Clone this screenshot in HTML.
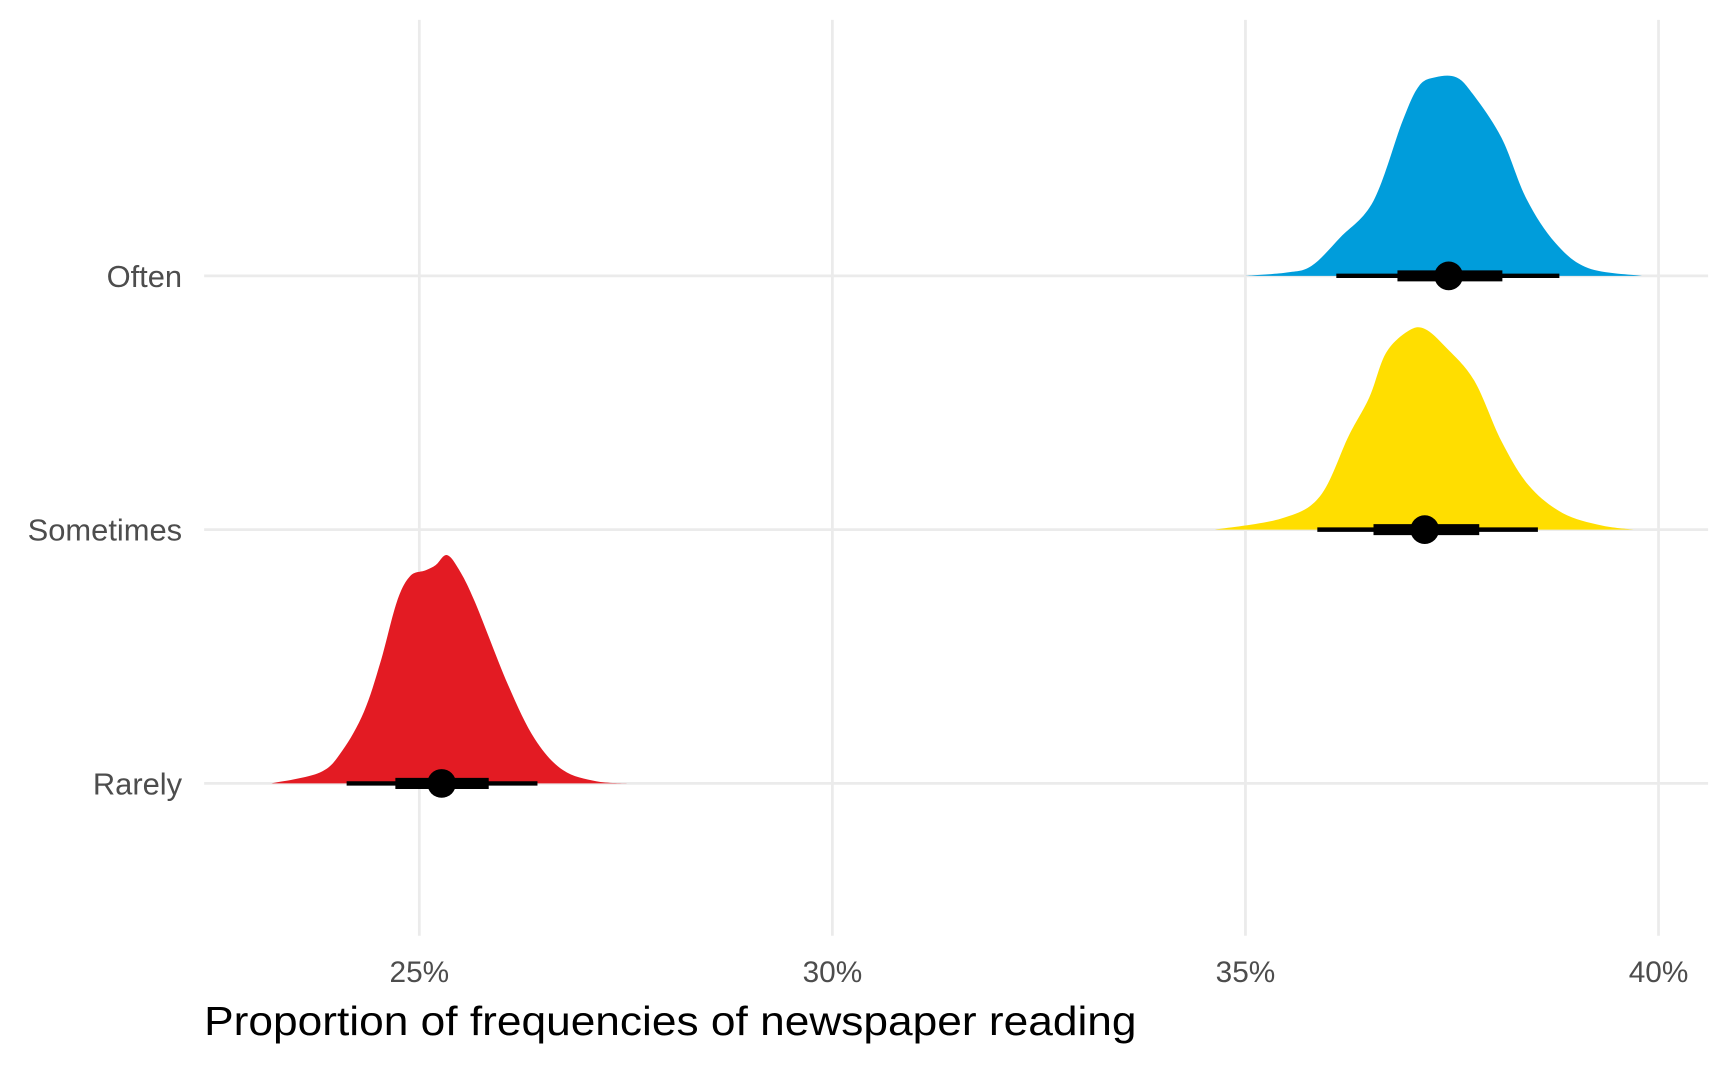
<!DOCTYPE html>
<html><head><meta charset="utf-8"><style>
html,body{margin:0;padding:0;background:#fff;}
svg{display:block;font-family:"Liberation Sans",sans-serif;}
</style></head><body>
<svg id="chart" width="1728" height="1067" viewBox="0 0 1566 967" xmlns="http://www.w3.org/2000/svg">
<g id="grid"></g>
<g id="marks"></g>
<g id="labels"></g>
<text x="185" y="938" font-size="37" textLength="845" lengthAdjust="spacingAndGlyphs" fill="#000">Proportion of frequencies of newspaper reading</text>
</svg>
<script>
const categories = ["Often", "Sometimes", "Rarely"];
const colors = ["#009ddb", "#ffde00", "#e31b23"];
const xTicks = [25, 30, 35, 40];
const xTickLabels = ["25%", "30%", "35%", "40%"];
const oftenX = [35.0, 35.5, 35.8, 36.15, 36.55, 36.9, 37.1, 37.3, 37.55, 37.75, 38.1, 38.4, 38.75, 39.15, 39.8];
const oftenD = [0, 3, 9, 35, 68, 140, 172, 180, 180, 165, 125, 70, 30, 7, 0];
const sometimesX = [34.63, 35.43, 35.9, 36.25, 36.5, 36.7, 36.97, 37.17, 37.43, 37.77, 38.1, 38.43, 38.84, 39.3, 39.7];
const sometimesD = [0, 10, 30, 85, 120, 160, 180, 182, 165, 135, 80, 40, 15, 4, 0];
const rarelyX = [23.21, 23.8, 24.07, 24.33, 24.53, 24.73, 24.89, 25.07, 25.2, 25.33, 25.47, 25.67, 26.07, 26.4, 26.74, 27.14, 27.55];
const rarelyD = [0, 10, 30, 65, 110, 165, 188, 193, 198, 207, 195, 165, 90, 40, 12, 2, 0];
const pointEst = [37.46, 37.17, 25.27];
const innerLo = [36.84, 36.55, 24.71];
const innerHi = [38.11, 37.83, 25.84];
const outerLo = [36.1, 35.87, 24.12];
const outerHi = [38.8, 38.54, 26.43];

const NS = "http://www.w3.org/2000/svg";
const xs = v => 380 + (v - 25) * 74.87;
const ys = i => 250 + i * 230;
const dScale = d => d;
function mk(tag, attrs, parent) {
  const e = document.createElementNS(NS, tag);
  for (const k in attrs) e.setAttribute(k, attrs[k]);
  parent.appendChild(e); return e;
}
const grid = document.getElementById('grid');
const marks = document.getElementById('marks');
const labels = document.getElementById('labels');
xTicks.forEach((t, i) => {
  const l = mk('line', {x1: xs(t), x2: xs(t), y1: 18, y2: 848, stroke: '#ebebeb', 'stroke-width': 2.5}, grid);
  
  
  const tx = mk('text', {x: xs(t), y: 890, 'text-anchor': 'middle', 'font-size': 27, fill: '#4d4d4d'}, labels);
  tx.textContent = xTickLabels[i];
  
  
});
categories.forEach((c, i) => {
  const l = mk('line', {x1: 185, x2: 1548, y1: ys(i), y2: ys(i), stroke: '#ebebeb', 'stroke-width': 2.5}, grid);
  
  
  const tx = mk('text', {x: 165, y: ys(i) + 10, 'text-anchor': 'end', 'font-size': 28, fill: '#4d4d4d'}, labels);
  tx.textContent = c;
  
  
});
const series = [[oftenX, oftenD], [sometimesX, sometimesD], [rarelyX, rarelyD]];
function smoothPath(pts) {
  let d = `M${pts[0][0]},${pts[0][1]}`;
  for (let i = 0; i < pts.length - 1; i++) {
    const p0 = pts[Math.max(0, i - 1)], p1 = pts[i], p2 = pts[i + 1], p3 = pts[Math.min(pts.length - 1, i + 2)];
    const c1 = [p1[0] + (p2[0] - p0[0]) / 6, p1[1] + (p2[1] - p0[1]) / 6];
    const c2 = [p2[0] - (p3[0] - p1[0]) / 6, p2[1] - (p3[1] - p1[1]) / 6];
    d += ` C${c1[0]},${c1[1]} ${c2[0]},${c2[1]} ${p2[0]},${p2[1]}`;
  }
  return d;
}
series.forEach(([X, D], i) => {
  const pts = X.map((x, j) => [xs(x), ys(i) - dScale(D[j])]);
  const d = smoothPath(pts) + ' Z';
  const p = mk('path', {d: d, fill: colors[i]}, marks);
  
  
});
categories.forEach((c, i) => {
  const a = mk('line', {x1: xs(outerLo[i]), x2: xs(outerHi[i]), y1: ys(i), y2: ys(i), stroke: '#000', 'stroke-width': 4}, marks);
  
  
  const b = mk('line', {x1: xs(innerLo[i]), x2: xs(innerHi[i]), y1: ys(i), y2: ys(i), stroke: '#000', 'stroke-width': 10}, marks);
  
  
  const pt = mk('circle', {cx: xs(pointEst[i]), cy: ys(i), r: 13, fill: '#000'}, marks);
  
  
});
</script>
</body></html>
